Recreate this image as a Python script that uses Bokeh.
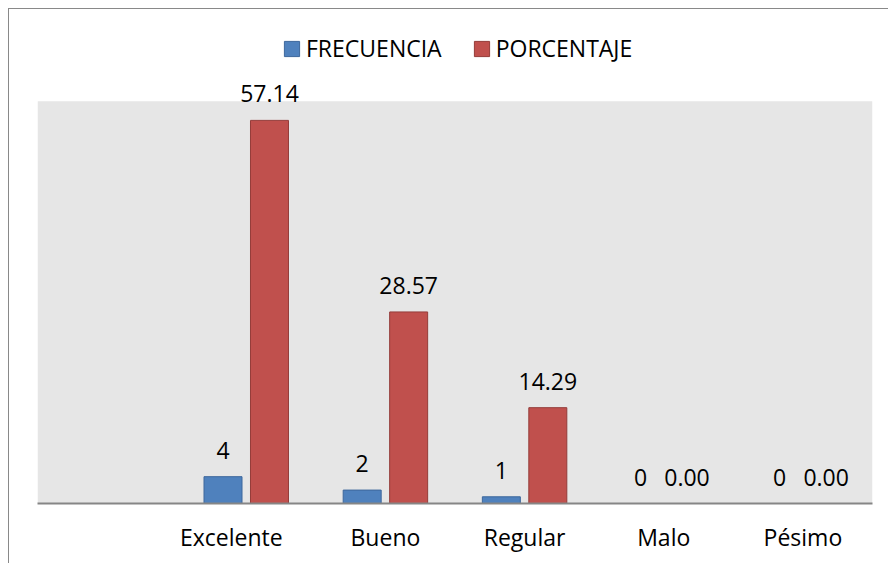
from bokeh.plotting import figure
from bokeh.models import (ColumnDataSource, FactorRange, Range1d, LabelSet, Legend,
                          LegendItem, BoxAnnotation)
from bokeh.core.properties import value
from bokeh.transform import dodge
from bokeh.embed import file_html
from bokeh.resources import INLINE

# ---- data ----
categories = ["Excelente", "Bueno", "Regular", "Malo", "Pésimo"]
frecuencia = [4, 2, 1, 0, 0]
porcentaje = [57.14, 28.57, 14.29, 0.00, 0.00]
series_names = ["FRECUENCIA", "PORCENTAJE"]
y_max = 60  # top of the grey plot area

FONT = "Open Sans"
BLUE, BLUE_LINE = "#4f81bd", "#3d679c"
RED, RED_LINE = "#c0504d", "#943c39"

# the first category label in the original carries trailing blanks
cat_labels = [categories[0] + "\u00a0" * 5] + categories[1:]
factors = [" "] + cat_labels

src = ColumnDataSource(dict(
    cat=cat_labels,
    freq=frecuencia,
    pct=porcentaje,
    freq_txt=[str(v) for v in frecuencia],
    pct_txt=[f"{v:.2f}" for v in porcentaje],
))
bar_src_f = ColumnDataSource(dict(
    cat=[c for c, v in zip(cat_labels, frecuencia) if v > 0],
    val=[v for v in frecuencia if v > 0],
))
bar_src_p = ColumnDataSource(dict(
    cat=[c for c, v in zip(cat_labels, porcentaje) if v > 0],
    val=[v for v in porcentaje if v > 0],
))

FRAME_H = 494
GREY_H = 402.3
p = figure(
    width=880, height=555,
    x_range=FactorRange(factors=factors, range_padding=0),
    y_range=Range1d(0, y_max * FRAME_H / GREY_H),
    output_backend="svg", toolbar_location=None,
    y_axis_location=None,
    min_border_left=28, min_border_right=17, min_border_top=0, min_border_bottom=555 - FRAME_H,
)
p.margin = (8, 0, 0, 8)
p.styles = {"border-left": "1px solid #898989", "border-top": "1px solid #898989"}
p.background_fill_color = "white"
p.border_fill_color = "white"
p.outline_line_color = None
p.xgrid.visible = False
p.ygrid.visible = False

p.add_layout(BoxAnnotation(bottom=0, top=y_max, fill_color="#e6e6e6", fill_alpha=1,
                           line_color=None, level="underlay"))

off = 0.167
w = 0.273
r1 = p.vbar(x=dodge("cat", -off, range=p.x_range), top="val", width=w, source=bar_src_f,
            fill_color=BLUE, line_color=BLUE_LINE, line_width=1)
r2 = p.vbar(x=dodge("cat", off, range=p.x_range), top="val", width=w, source=bar_src_p,
            fill_color=RED, line_color=RED_LINE, line_width=1)

for col, txt, o in (("freq", "freq_txt", -off), ("pct", "pct_txt", off)):
    p.add_layout(LabelSet(
        x=dodge("cat", o, range=p.x_range), y=col, text=txt, source=src,
        y_offset=18, text_align="center", text_baseline="alphabetic",
        text_font=value(FONT), text_font_size=value("23px"), text_color="#000000",
    ))

ax = p.xaxis[0]
ax.axis_line_color = "#868686"
ax.axis_line_width = 2
ax.major_tick_line_color = None
ax.minor_tick_line_color = None
ax.major_tick_out = 0
ax.major_tick_in = 0
ax.major_label_standoff = 17
ax.major_label_text_font = FONT
ax.major_label_text_font_size = "23px"
ax.major_label_text_color = "#000000"

legend = Legend(
    items=[LegendItem(label=series_names[0], renderers=[r1]),
           LegendItem(label=series_names[1], renderers=[r2])],
    orientation="horizontal",
    location=(245, 439),
    glyph_width=19, glyph_height=19,
    label_standoff=5, spacing=30,
    padding=0, margin=0,
    border_line_color=None, background_fill_alpha=0,
    label_text_font=FONT, label_text_font_size="23px", label_text_color="#000000",
)
p.add_layout(legend, "center")

open("out.html", "w").write(file_html(p, INLINE))
